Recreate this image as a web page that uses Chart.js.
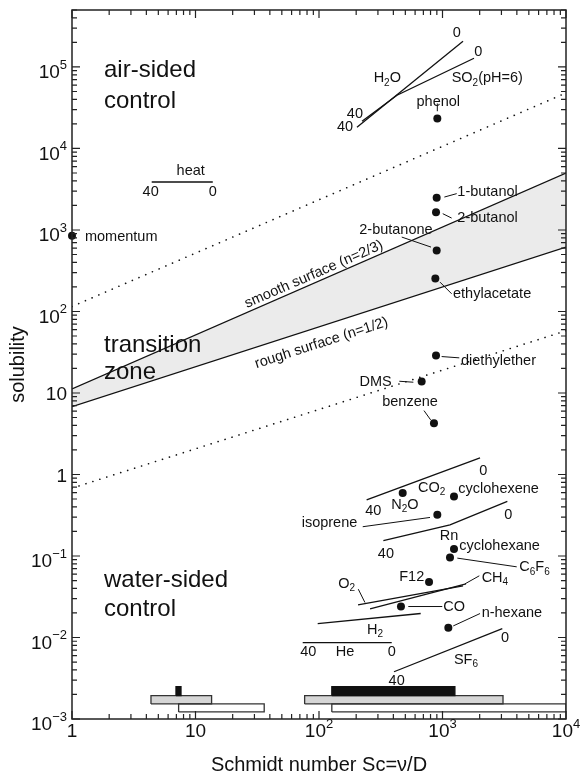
<!DOCTYPE html>
<html>
<head>
<meta charset="utf-8">
<script src="https://cdn.jsdelivr.net/npm/chart.js@4.4.1/dist/chart.umd.min.js"></script>
<style>
  html, body { margin: 0; padding: 0; background: #fff; }
  #wrap { width: 585px; height: 776px; }
</style>
</head>
<body>
<div id="wrap"><canvas id="chart" width="585" height="776"></canvas></div>
<script>
// axis ticks
const xTickValues = [1, 10, 100, 1000, 10000];
const xTickLabels = ['1', '10', '10^{2}', '10^{3}', '10^{4}'];
const yTickValues = [1e-3, 1e-2, 1e-1, 1, 10, 100, 1e3, 1e4, 1e5];
const yTickLabels = ['10^{\u22123}', '10^{\u22122}', '10^{\u22121}', '1', '10', '10^{2}', '10^{3}', '10^{4}', '10^{5}'];

// transition zone + dotted boundaries (Sc at both ends)
const boundSc = [1, 10000];
const smoothSurface = [11.2, 5000];   // n = 2/3
const roughSurface = [6.8, 618];      // n = 1/2
const upperDotted = [115, 48000];
const lowerDotted = [0.68, 58];

// single tracers (dots)
const pointNames = ['momentum', 'phenol', '1-butanol', '2-butanol', '2-butanone', 'ethylacetate',
  'diethylether', 'DMS', 'benzene', 'N2O', 'cyclohexene', 'isoprene', 'cyclohexane', 'C6F6', 'F12', 'CO', 'n-hexane'];
const pointSc = [1, 908, 897, 886, 897, 875, 886, 678, 853, 476, 1239, 908, 1239, 1150, 778, 461, 1115];
const pointSol = [850, 23300, 2490, 1645, 561, 254, 28.8, 13.8, 4.25, 0.593, 0.538, 0.32, 0.122, 0.096, 0.0478, 0.024, 0.0132];

// temperature ranges 40 -> 0 degC
const curveNames = ['H2O', 'SO2', 'heat', 'CO2', 'Rn', 'O2', 'CH4', 'H2', 'He', 'SF6'];
const curveSc = [[203, 1466], [223, 428, 1799], [4.42, 13.8], [243, 2013], [332, 1150, 3350],
  [207, 1466], [259, 1549], [97.6, 666], [73.8, 388], [405, 3049]];
const curveSol = [[18200, 207000], [21600, 45000, 128000], [3880, 3880], [0.487, 1.6], [0.154, 0.241, 0.468],
  [0.0251, 0.043], [0.02245, 0.0455], [0.0148, 0.0197], [0.00865, 0.00865], [0.0038, 0.01285]];

// Sc ranges at the bottom
const boxScLo = [6.95, 127, 4.36, 76.5, 7.3, 127];
const boxScHi = [7.63, 1260, 13.5, 3090, 36, 10000];
const boxSolLo = [1.94e-3, 1.94e-3, 1.53e-3, 1.53e-3, 1.22e-3, 1.22e-3];
const boxSolHi = [2.49e-3, 2.49e-3, 1.94e-3, 1.94e-3, 1.53e-3, 1.53e-3];
const boxColors = ['#111', '#111', '#d6d6d6', '#d6d6d6', '#fff', '#fff'];

// annotations: text, log10(Sc), log10(solubility), align
const notes = [
  ['0', 3.115, 5.411], ['0', 3.290, 5.185], ['H_{2}O', 2.553, 4.859], ['SO_{2}(pH=6)', 3.074, 4.859, 'left'],
  ['phenol', 2.966, 4.571], ['40', 2.291, 4.429], ['40', 2.211, 4.264],
  ['heat', 0.961, 3.724], ['40', 0.637, 3.466], ['0', 1.139, 3.466],
  ['momentum', 0.105, 2.913, 'left'], ['1-butanol', 3.120, 3.466, 'left'], ['2-butanol', 3.120, 3.146, 'left'],
  ['2-butanone', 2.623, 3.004], ['ethylacetate', 3.085, 2.217, 'left'], ['diethylether', 3.150, 1.390, 'left'],
  ['DMS', 2.589, 1.132, 'right'], ['benzene', 2.737, 0.886],
  ['0', 3.330, 0.047], ['CO_{2}', 2.912, -0.166], ['cyclohexene', 3.128, -0.178, 'left'], ['N_{2}O', 2.696, -0.371],
  ['40', 2.440, -0.445], ['0', 3.533, -0.494], ['isoprene', 2.310, -0.601, 'right'], ['Rn', 3.053, -0.756],
  ['cyclohexane', 3.136, -0.883, 'left'], ['40', 2.542, -0.977], ['C_{6}F_{6}', 3.622, -1.141, 'left'],
  ['F12', 2.751, -1.256], ['CH_{4}', 3.317, -1.264, 'left'], ['O_{2}', 2.224, -1.338],
  ['CO', 3.006, -1.620, 'left'], ['n-hexane', 3.317, -1.702, 'left'], ['H_{2}', 2.453, -1.910],
  ['0', 3.506, -2.009], ['40', 1.913, -2.177], ['He', 2.211, -2.177], ['0', 2.589, -2.177],
  ['SF_{6}', 3.190, -2.279], ['40', 2.629, -2.533]
];
const regionNotes = [
  ['air-sided', 0.259, 4.961], ['control', 0.259, 4.580],
  ['transition', 0.259, 1.582], ['zone', 0.259, 1.251],
  ['water-sided', 0.259, -1.305], ['control', 0.259, -1.649]
];
// leader lines: log Sc / log sol of both ends
const leaders = [
  [2.958, 4.552, 2.958, 4.457], [3.015, 3.404, 3.115, 3.446], [3.002, 3.200, 3.074, 3.146],
  [2.670, 2.913, 2.907, 2.790], [2.980, 2.360, 3.074, 2.217], [2.993, 1.447, 3.136, 1.431],
  [2.650, 1.144, 2.764, 1.132], [2.850, 0.784, 2.904, 0.670], [2.354, -0.641, 2.899, -0.527],
  [3.120, -1.026, 3.601, -1.133], [3.182, -1.342, 3.298, -1.243], [2.318, -1.407, 2.372, -1.571],
  [2.723, -1.620, 2.998, -1.620], [3.087, -1.858, 3.304, -1.706]
];

const FONT = '"Liberation Sans", Arial, Helvetica, sans-serif';
const font = s => s + 'px ' + FONT;

function parseRich(str) {
  const parts = [];
  const re = /([_^])\{([^}]*)\}|([^_^]+)/g;
  let m;
  while ((m = re.exec(str))) {
    if (m[3]) parts.push({ t: m[3], k: 0 });
    else parts.push({ t: m[2], k: m[1] === '_' ? 1 : -1 });
  }
  return parts;
}

function drawRich(ctx, str, x, y, size, align) {
  const parts = parseRich(str);
  const small = Math.round(size * 0.7);
  let w = 0;
  parts.forEach(p => {
    ctx.font = font(p.k ? small : size);
    p.w = ctx.measureText(p.t).width;
    w += p.w;
  });
  let cx = align === 'center' ? x - w / 2 : align === 'right' ? x - w : x;
  ctx.textAlign = 'left';
  ctx.textBaseline = 'middle';
  parts.forEach(p => {
    ctx.font = font(p.k ? small : size);
    const dy = p.k === 1 ? size * 0.3 : p.k === -1 ? -size * 0.42 : 0;
    ctx.fillText(p.t, cx, y + dy);
    cx += p.w;
  });
}

function pairs(xs, ys) {
  return xs.map((v, i) => ({ x: v, y: ys[i] }));
}

const lineStyle = { borderColor: '#111', borderWidth: 1.3, pointRadius: 0, fill: false, tension: 0 };
const datasets = [
  Object.assign({ label: 'rough surface (n=1/2)', data: pairs(boundSc, roughSurface) }, lineStyle),
  Object.assign({}, lineStyle, { label: 'smooth surface (n=2/3)', data: pairs(boundSc, smoothSurface),
    fill: '-1', backgroundColor: '#ebebeb' }),
  Object.assign({}, lineStyle, { label: 'upper limit', data: pairs(boundSc, upperDotted),
    borderWidth: 1.6, borderDash: [0.1, 7.2], borderCapStyle: 'round' }),
  Object.assign({}, lineStyle, { label: 'lower limit', data: pairs(boundSc, lowerDotted),
    borderWidth: 1.6, borderDash: [0.1, 7.2], borderCapStyle: 'round' })
];
curveNames.forEach((n, i) => {
  datasets.push(Object.assign({}, lineStyle, { label: n, data: pairs(curveSc[i], curveSol[i]) }));
});
boxScLo.forEach((lo, i) => {
  const hi = boxScHi[i], b = boxSolLo[i], t = boxSolHi[i];
  datasets.push({
    label: 'range ' + i,
    data: [{ x: lo, y: b }, { x: hi, y: b }, { x: hi, y: t }, { x: lo, y: t }, { x: lo, y: b }],
    fill: 'shape', backgroundColor: boxColors[i], borderColor: i < 2 ? '#111' : '#333',
    borderWidth: 1.3, pointRadius: 0, tension: 0, borderJoinStyle: 'miter'
  });
});
datasets.push({
  label: 'tracers', data: pairs(pointSc, pointSol), showLine: false,
  pointRadius: 4, pointBackgroundColor: '#111', pointBorderWidth: 0, clip: false
});

const overlay = {
  id: 'overlay',
  afterDatasetsDraw(chart) {
    const { ctx, chartArea: a, scales: { x, y } } = chart;
    const px = v => x.getPixelForValue(v);
    const py = v => y.getPixelForValue(v);
    ctx.save();
    ctx.fillStyle = '#111';
    ctx.strokeStyle = '#111';

    // leader lines
    ctx.lineWidth = 1;
    leaders.forEach(l => {
      ctx.beginPath();
      ctx.moveTo(px(10 ** l[0]), py(10 ** l[1]));
      ctx.lineTo(px(10 ** l[2]), py(10 ** l[3]));
      ctx.stroke();
    });

    // frame
    ctx.lineWidth = 1.5;
    ctx.strokeStyle = '#222';
    ctx.strokeRect(a.left, a.top, a.right - a.left, a.bottom - a.top);

    // inward ticks on all four sides
    ctx.lineWidth = 1.2;
    ctx.beginPath();
    for (let d = 0; d <= 4; d++) {
      for (let m = 1; m <= 9; m++) {
        const v = m * 10 ** d;
        if (v > 10000) break;
        const len = m === 1 ? 8 : 5, p = px(v);
        ctx.moveTo(p, a.bottom); ctx.lineTo(p, a.bottom - len);
        ctx.moveTo(p, a.top); ctx.lineTo(p, a.top + len);
      }
    }
    for (let d = -3; d <= 5; d++) {
      for (let m = 1; m <= 9; m++) {
        const v = m * 10 ** d;
        if (v > y.max * 1.0001) break;
        const len = m === 1 ? 8 : 5, p = py(v);
        ctx.moveTo(a.left, p); ctx.lineTo(a.left + len, p);
        ctx.moveTo(a.right, p); ctx.lineTo(a.right - len, p);
      }
    }
    ctx.stroke();

    // tick labels
    xTickValues.forEach((v, i) => drawRich(ctx, xTickLabels[i], px(v), a.bottom + 13, 19, 'center'));
    yTickValues.forEach((v, i) => {
      const lab = yTickLabels[i];
      drawRich(ctx, lab, a.left - 5, py(v) + (lab.indexOf('^') >= 0 ? 6 : 2), 19, 'right');
    });

    // axis titles
    drawRich(ctx, 'Schmidt number Sc=\u03bd/D', (a.left + a.right) / 2, 765, 20, 'center');
    ctx.save();
    ctx.translate(18, (a.top + a.bottom) / 2);
    ctx.rotate(-Math.PI / 2);
    drawRich(ctx, 'solubility', 0, 0, 20, 'center');
    ctx.restore();

    // region labels
    regionNotes.forEach(n => drawRich(ctx, n[0], px(10 ** n[1]), py(10 ** n[2]), 24, 'left'));

    // annotations
    notes.forEach(n => drawRich(ctx, n[0], px(10 ** n[1]), py(10 ** n[2]), 14.5, n[3] || 'center'));

    // rotated line labels
    const rot = (txt, lx, ly, ys) => {
      const ang = Math.atan2(py(ys[1]) - py(ys[0]), px(boundSc[1]) - px(boundSc[0]));
      ctx.save();
      ctx.translate(px(10 ** lx), py(10 ** ly));
      ctx.rotate(ang);
      drawRich(ctx, txt, 0, 0, 14.5, 'center');
      ctx.restore();
    };
    rot('smooth surface (n=2/3)', 1.959, 2.455, smoothSurface);
    rot('rough surface (n=1/2)', 2.020, 1.613, roughSurface);

    ctx.restore();
  }
};

new Chart(document.getElementById('chart'), {
  type: 'line',
  data: { datasets: datasets },
  options: {
    responsive: false,
    animation: false,
    layout: { padding: { left: 72, right: 19, top: 10, bottom: 57 } },
    plugins: {
      legend: { display: false },
      tooltip: { enabled: false },
      filler: { drawTime: 'beforeDatasetsDraw' }
    },
    scales: {
      x: { type: 'logarithmic', min: 1, max: 10000, display: false },
      y: { type: 'logarithmic', min: 1e-3, max: 5e5, display: false }
    }
  },
  plugins: [overlay]
});
</script>
</body>
</html>
